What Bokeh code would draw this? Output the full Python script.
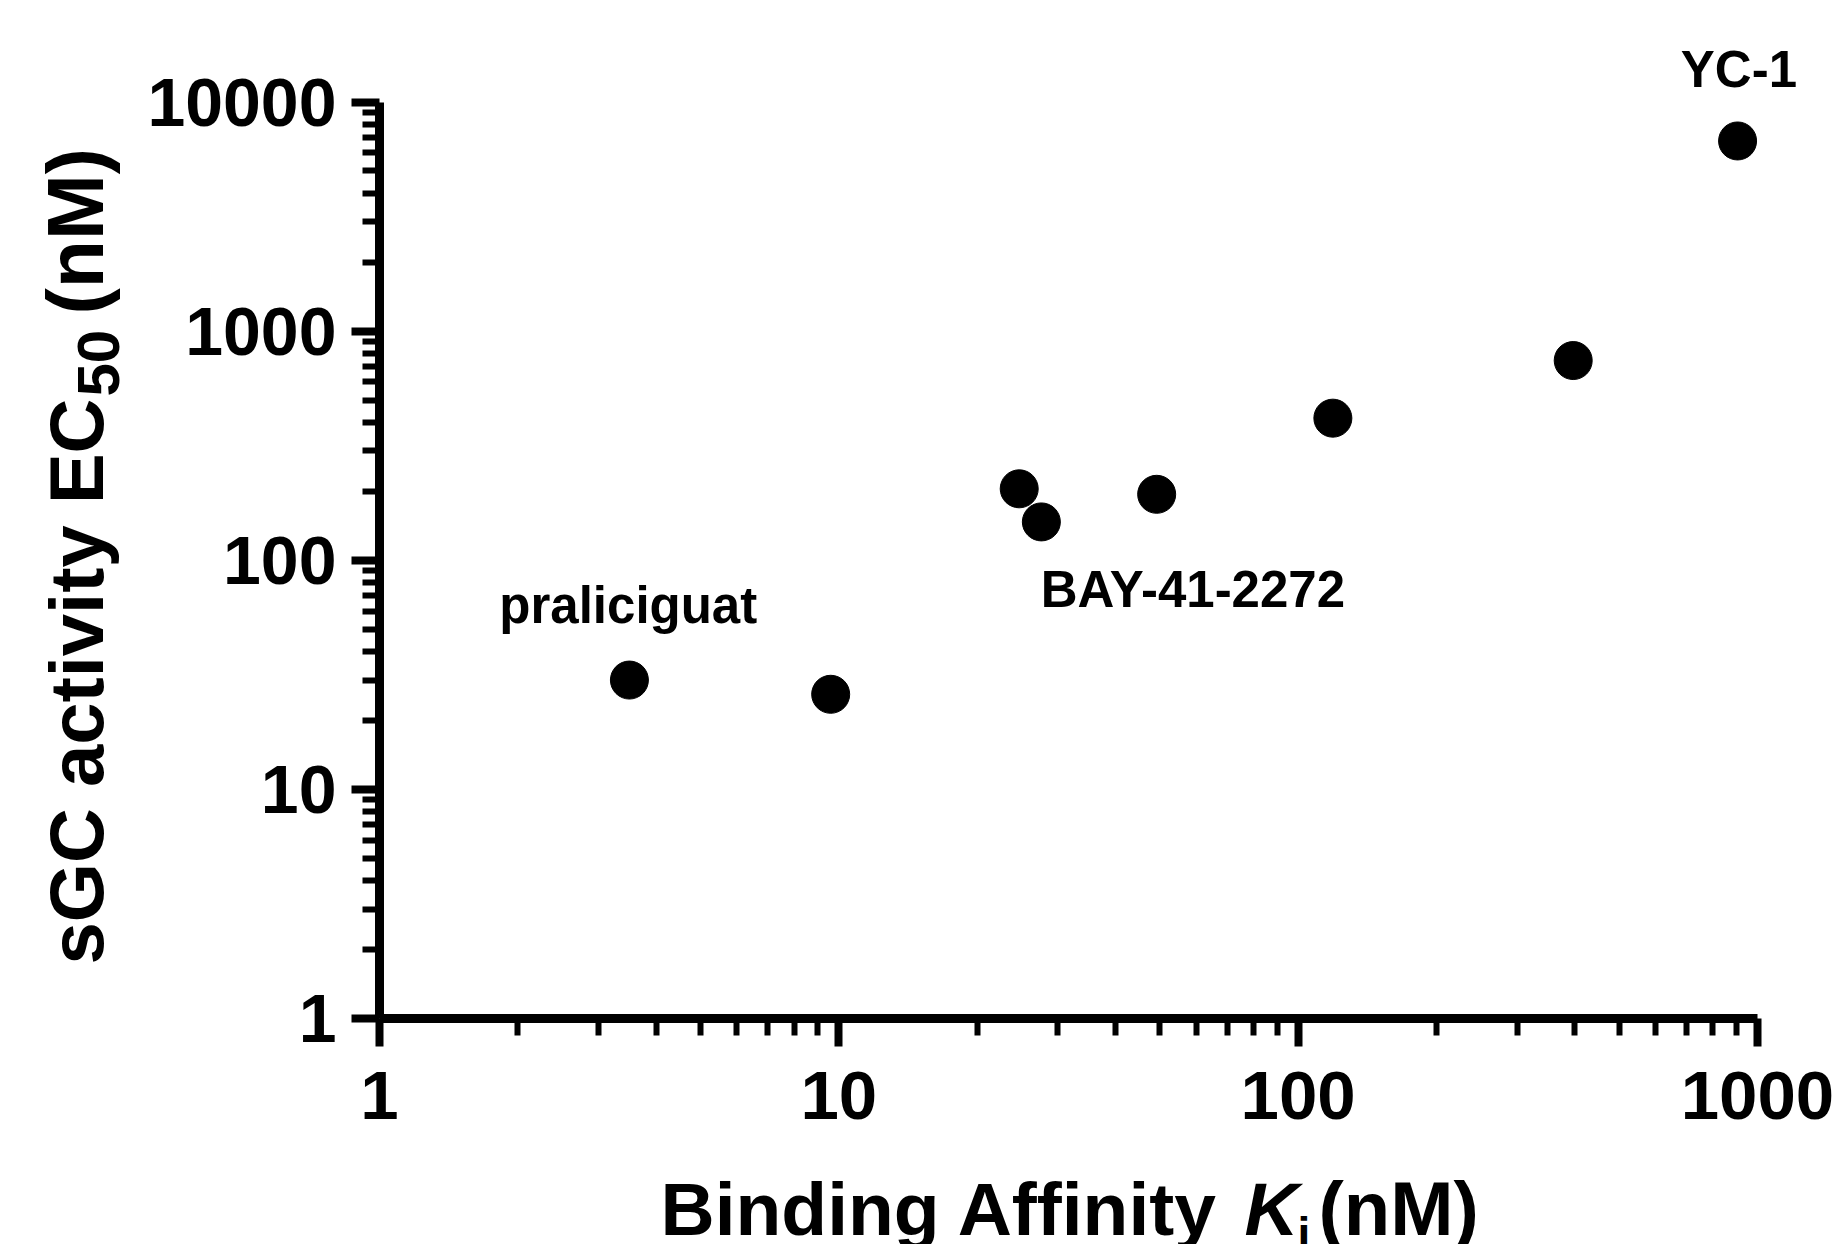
import math
from bokeh.plotting import figure
from bokeh.models import Range1d, FixedTicker, NumeralTickFormatter, Label
from bokeh.embed import file_html
from bokeh.resources import INLINE

# ---------------- data ----------------
ki_nM = [3.5, 9.6, 24.7, 27.6, 49.2, 119, 397, 905]
ec50_nM = [30, 26, 205, 147, 194, 417, 744, 6760]

annot_text = ["praliciguat", "BAY-41-2272", "YC-1"]
annot_ki = [3.48, 59.0, 911]          # label centre (x)
annot_ec50 = [53.5, 62.9, 11700]      # label baseline (y)

x_ticks = [1, 10, 100, 1000]
x_tick_labels = ["1", "10", "100", "1000"]
y_ticks = [1, 10, 100, 1000, 10000]
y_tick_labels = ["1", "10", "100", "1000", "10000"]

FONT = "Liberation Sans"

# ---------------- layout (pixels) ----------------
W_PX, H_PX = 1836, 1244
X0, DX = 379.0, 459.33      # px of x=1, px per decade
Y0, DY = 1018.0, 229.125    # px of y=1, px per decade
BASE_FIX = 0.34             # baseline correction (fraction of font size)

def x_of(px):
    return 10 ** ((px - X0) / DX)

def y_of(py):
    return 10 ** ((Y0 - py) / DY)

p = figure(
    x_axis_type="log", y_axis_type="log",
    x_range=Range1d(x_of(0), x_of(W_PX)), y_range=Range1d(y_of(H_PX), y_of(0)),
    width=W_PX, height=H_PX,
    min_border_left=0, min_border_right=0, min_border_top=0, min_border_bottom=0,
    output_backend="svg", toolbar_location=None,
    background_fill_color="white", border_fill_color="white",
)
p.outline_line_color = None
p.xgrid.visible = False
p.ygrid.visible = False

x_minor = [m * 10 ** e for e in range(0, 3) for m in range(2, 10)]
y_minor = [m * 10 ** e for e in range(0, 4) for m in range(2, 10)]
p.xaxis.ticker = FixedTicker(ticks=x_ticks, minor_ticks=x_minor)
p.yaxis.ticker = FixedTicker(ticks=y_ticks, minor_ticks=y_minor)
p.xaxis.formatter = NumeralTickFormatter(format="0")
p.yaxis.formatter = NumeralTickFormatter(format="0")
p.xaxis.major_label_overrides = {t: l for t, l in zip(x_ticks, x_tick_labels)}
p.yaxis.major_label_overrides = {t: l for t, l in zip(y_ticks, y_tick_labels)}
p.xaxis.fixed_location = y_ticks[0]
p.yaxis.fixed_location = x_ticks[0]
p.xaxis.bounds = (x_ticks[0], x_ticks[-1])
p.yaxis.bounds = (y_ticks[0], y_ticks[-1])

for ax in (p.xaxis, p.yaxis):
    ax.axis_line_width = 9
    ax.axis_line_color = "black"
    ax.major_tick_line_width = 8
    ax.major_tick_line_color = "black"
    ax.minor_tick_line_width = 6
    ax.minor_tick_line_color = "black"
    ax.major_tick_in = 0
    ax.major_tick_out = 28
    ax.minor_tick_in = 0
    ax.minor_tick_out = 17
    ax.major_label_text_font = FONT
    ax.major_label_text_font_style = "bold"
    ax.major_label_text_color = "black"
p.xaxis.major_label_text_font_size = "69px"
p.yaxis.major_label_text_font_size = "68px"
p.xaxis.major_label_standoff = 25
p.yaxis.major_label_standoff = 15

p.scatter(ki_nM, ec50_nM, size=38, marker="circle",
          fill_color="black", line_color="black")

ANN = 51
for t, xv, yv in zip(annot_text, annot_ki, annot_ec50):
    py = Y0 - math.log10(yv) * DY - BASE_FIX * ANN
    p.add_layout(Label(x=xv, y=y_of(py), x_units="data", y_units="data", text=t,
                       text_align="center", text_baseline="alphabetic",
                       text_font=FONT, text_font_style="bold",
                       text_font_size=f"{ANN}px", text_color="black"))

# ---- axis titles built from pieces (italic K, subscripts) ----
def htext(text, px, base_py, size, style="bold"):
    p.add_layout(Label(x=x_of(px), y=y_of(base_py - BASE_FIX * size),
                       x_units="data", y_units="data", text=text,
                       text_align="left", text_baseline="alphabetic",
                       text_font=FONT, text_font_style=style,
                       text_font_size=f"{size}px", text_color="black"))

def vtext(text, base_px, start_py, size, style="bold"):
    p.add_layout(Label(x=x_of(base_px - BASE_FIX * size), y=y_of(start_py),
                       x_units="data", y_units="data", text=text,
                       angle=math.pi / 2,
                       text_align="left", text_baseline="alphabetic",
                       text_font=FONT, text_font_style=style,
                       text_font_size=f"{size}px", text_color="black"))

# x title
htext("Binding Affinity", 660, 1234, 75)
htext("K", 1244, 1234, 75, style="bold italic")
htext("i", 1297, 1249, 46)
htext("(nM)", 1318, 1234, 76)

# y title (rotated, reads bottom to top)
vtext("sGC activity EC", 102, 964, 76)
vtext("50", 118, 396, 60)
vtext("(nM)", 102, 314, 79)

open("out.html", "w").write(file_html(p, INLINE))
